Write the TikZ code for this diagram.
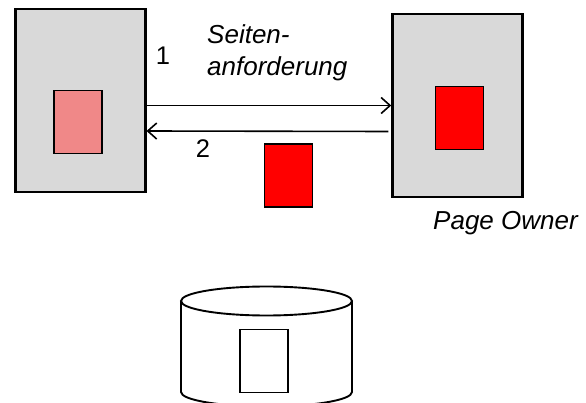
\documentclass[tikz,border=0pt]{standalone}
\usepackage{fontspec}
\setmainfont{Liberation Sans}
\usetikzlibrary{arrows.meta}
\definecolor{hostgray}{RGB}{217,217,217}
\definecolor{copypink}{RGB}{240,136,136}
\definecolor{pagered}{RGB}{255,0,0}

\begin{document}
\begin{tikzpicture}[x=1pt,y=-1pt, font=\fontsize{25.5}{32}\selectfont,
	host/.style={draw,line width=2.4pt,fill=hostgray,inner sep=0,minimum width=130pt,minimum height=183pt},
	page/.style={draw,line width=1.8pt,inner sep=0,minimum width=48pt,minimum height=63pt},
	msg/.style={line width=1.6pt,-{Straight Barb[length=9pt,width=16pt,line width=1.6pt]}},
	lbl/.style={inner sep=0,font=\fontsize{26}{32}\selectfont\itshape}]
		\useasboundingbox (0,0) rectangle (586,403);
		\node[host] (client) at (80.3,100.5) {};
		\node[host] (owner) at (457.5,105.5) {};
		\node[page,fill=copypink] (copy) at (78,122) {};
		\node[page,fill=pagered] (orig) at (459.5,118) {};
		\node[page,fill=pagered] (sent) at (288.5,175.5) {};
		\node (one) at (163,56) {1};
		\node (two) at (203,148.5) {2};
		\node[lbl,anchor=west,align=left] (req) at (207,52.7) {Seiten-\\anforderung};
		\node[lbl,anchor=base west] (ownername) at (433,229.5) {Page Owner};
		\draw[msg] (client.east |- owner.west) -- (owner.west);
		\draw[msg] ([xshift=-3pt,yshift=-26pt]owner.west) -- (client.east |- 0,131);
		\draw[line width=1.9pt] (266.5,301) ellipse (85.5pt and 14.5pt);
		\draw[line width=1.9pt] (181,301) -- (181,392) arc (180:360:85.5pt and 14.5pt) -- (352,301);
		\node[page,fill=white] (disk) at (264,361) {};
\end{tikzpicture}
\end{document}
